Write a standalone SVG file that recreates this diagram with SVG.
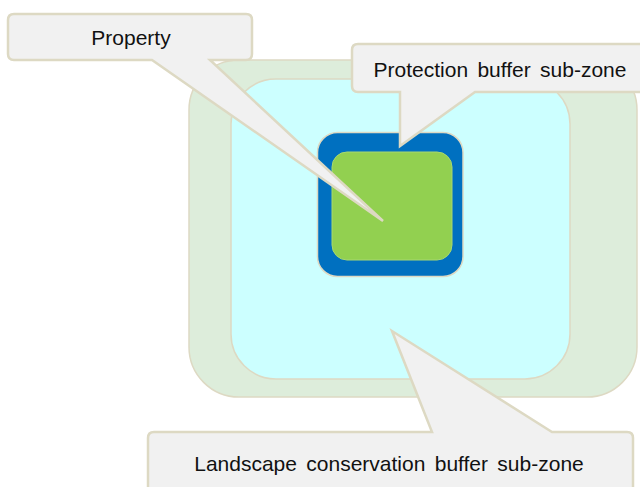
<svg xmlns="http://www.w3.org/2000/svg" width="640" height="487" viewBox="0 0 640 487">
<style>
.zone{stroke:#ddd9c3;stroke-width:1.5}
.callout{fill:#f1f1f1;stroke:#ddd9c3;stroke-width:2.5;stroke-linejoin:miter}
.lbl{font-family:"Liberation Sans",Arial,sans-serif;font-size:21px;fill:#111;text-anchor:middle;word-spacing:3.5px}
</style>
<rect width="640" height="487" fill="#ffffff"/>
<g id="landscape-zone"><rect class="zone" x="189" y="60" width="448" height="337" rx="50" fill="#ddeddb"/></g>
<g id="cyan-zone"><rect class="zone" x="231" y="79" width="339" height="300" rx="45" fill="#ccffff"/></g>
<g id="protection-zone"><rect class="zone" x="317.5" y="132.5" width="145.5" height="144" rx="20" fill="#0070c0"/></g>
<g id="property"><rect x="332" y="152" width="120" height="108" rx="15" fill="#92d050" stroke="#a8d870" stroke-width="1"/></g>
<g id="connectors">
<g id="callout-property">
<path class="callout" d="M14,14 H246 Q252,14 252,20 V54 Q252,60 246,60 H210 L383,221 L152,60 H14 Q8,60 8,54 V20 Q8,14 14,14 Z"/>
<text class="lbl" x="131" y="45">Property</text>
</g>
<g id="callout-protection">
<path class="callout" d="M358,44 H650 V92 H475 L400,146 L400,92 H358 Q352,92 352,86 V50 Q352,44 358,44 Z"/>
<text class="lbl" x="500" y="77">Protection buffer sub-zone</text>
</g>
<g id="callout-landscape">
<path class="callout" d="M154,432 H432 L392,331 L552,432 H627 Q633,432 633,438 V500 H148 V438 Q148,432 154,432 Z"/>
<text class="lbl" x="389" y="471">Landscape conservation buffer sub-zone</text>
</g>
</g>
</svg>
